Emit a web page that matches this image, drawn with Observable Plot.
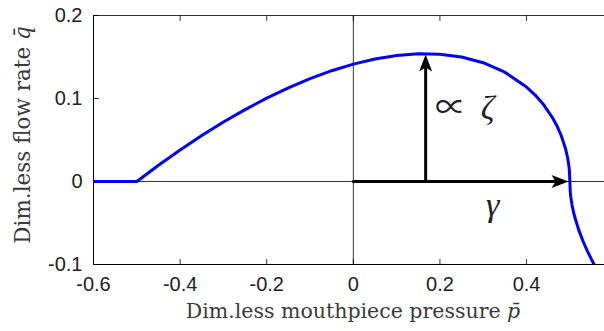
<!DOCTYPE html>
<html>
<head>
<meta charset="utf-8">
<script src="https://cdn.jsdelivr.net/npm/d3@7"></script>
<script src="https://cdn.jsdelivr.net/npm/@observablehq/plot@0.6"></script>
<style>
  body { margin: 0; background: #fff; }
  svg { display: block; }
</style>
</head>
<body>
<div id="chart"></div>
<script>
// Reed-valve characteristic: dimensionless flow rate vs mouthpiece pressure
const pressure = [-0.6, -0.5, -0.45, -0.4, -0.35, -0.3, -0.25, -0.2, -0.15, -0.1, -0.05, 0,
  0.05, 0.1, 0.15, 0.2, 0.25, 0.3, 0.35, 0.4, 0.42, 0.44, 0.46, 0.47, 0.48, 0.49, 0.495,
  0.498, 0.499, 0.5, 0.501, 0.502, 0.505, 0.51, 0.52, 0.53, 0.54, 0.55, 0.556];
const flow = [0, 0, 0.0195, 0.0379, 0.0553, 0.0716, 0.0866, 0.1004, 0.1129, 0.1239, 0.1335, 0.1414,
  0.1476, 0.1518, 0.1538, 0.1534, 0.15, 0.1431, 0.1317, 0.1138, 0.1041, 0.0921, 0.0768, 0.0672,
  0.0554, 0.0396, 0.0281, 0.0179, 0.0126, 0, -0.0127, -0.018, -0.0284, -0.0404, -0.0577, -0.0714,
  -0.0832, -0.0939, -0.1];

const xTicks = [-0.6, -0.4, -0.2, 0, 0.2, 0.4];
const yTicks = [-0.1, 0, 0.1, 0.2];

// annotation arrows: ∝ ζ (height of the peak) and γ (closing pressure)
const arrowX1 = [0.167, 0];
const arrowY1 = [0, 0];
const arrowX2 = [0.167, 0.497];
const arrowY2 = [0.153, 0];
const arrowAngle = [0, 90];

const symbolText = ["∝", "ζ", "γ"];
const symbolX = [0.225, 0.31, 0.322];
const symbolY = [0.088, 0.088, -0.028];
const symbolItalic = [false, true, true];

const curve = pressure.map((p, i) => ({p, q: flow[i]}));
const arrows = arrowX1.map((x1, i) => ({x1, y1: arrowY1[i], x2: arrowX2[i], y2: arrowY2[i], a: arrowAngle[i]}));
const symbols = symbolText.map((t, i) => ({t, x: symbolX[i], y: symbolY[i], it: symbolItalic[i]}));

// short inward tick stroke for Plot.vector
const spike = {draw(ctx, l) { ctx.moveTo(0, 0); ctx.lineTo(0, -l); }};
// filled arrowhead with a notched back, tip at the origin, pointing up
const head = {draw(ctx) {
  ctx.moveTo(0, 0); ctx.lineTo(-6.5, 17); ctx.lineTo(0, 13); ctx.lineTo(6.5, 17); ctx.closePath();
}};

const serif = "'DejaVu Serif', 'Liberation Serif', serif";
const mathSerif = "'Liberation Serif', 'DejaVu Serif', serif";
const sans = "'Liberation Sans', Arial, sans-serif";

const chart = Plot.plot({
  width: 604,
  height: 331,
  marginLeft: 93,
  marginRight: 0,
  marginTop: 15,
  marginBottom: 67,
  style: {fontFamily: sans, background: "#fff", overflow: "visible"},
  x: {domain: [-0.6, 0.58]},
  y: {domain: [-0.1, 0.2]},
  marks: [
    // zero lines
    Plot.ruleY([0], {stroke: "#000", strokeWidth: 0.8}),
    Plot.ruleX([0], {stroke: "#000", strokeWidth: 0.8}),
    // box edges
    Plot.ruleY([0.2], {stroke: "#333", strokeWidth: 1}),
    Plot.ruleY([-0.1], {stroke: "#000", strokeWidth: 1}),
    Plot.ruleX([-0.6], {stroke: "#000", strokeWidth: 1}),
    // inward ticks
    Plot.vector(xTicks, {x: d => d, frameAnchor: "bottom", length: 5, anchor: "start", shape: spike, stroke: "#000", strokeWidth: 0.8}),
    Plot.vector(xTicks, {x: d => d, frameAnchor: "top", rotate: 180, length: 5, anchor: "start", shape: spike, stroke: "#000", strokeWidth: 0.8}),
    Plot.vector(yTicks, {y: d => d, frameAnchor: "left", rotate: 90, length: 5, anchor: "start", shape: spike, stroke: "#000", strokeWidth: 0.8}),
    // tick labels
    Plot.axisX(xTicks, {tickSize: 0, tickPadding: 12, fontSize: 20, tickFormat: d => String(d), label: null, fill: "#222"}),
    Plot.axisY(yTicks, {tickSize: 0, tickPadding: 11, fontSize: 20, tickFormat: d => String(d), label: null, fill: "#222"}),
    // characteristic curve
    Plot.line(curve, {x: "p", y: "q", stroke: "#0000ff", strokeWidth: 3, clip: true}),
    // arrows
    Plot.arrow(arrows, {x1: "x1", y1: "y1", x2: "x2", y2: "y2", headLength: 0, insetEnd: 12, stroke: "#000", strokeWidth: 3}),
    Plot.dot(arrows, {x: "x2", y: "y2", symbol: head, rotate: "a", fill: "#000", stroke: null}),
    // symbol labels
    Plot.text(symbols.filter(d => !d.it), {x: "x", y: "y", text: "t", fontSize: 31, fontFamily: "'Noto Sans CJK JP', 'DejaVu Sans', sans-serif", fill: "#222"}),
    Plot.text(symbols.filter(d => d.it), {x: "x", y: "y", text: "t", fontSize: 34, fontFamily: mathSerif, fontStyle: "italic", fill: "#222"}),
    // axis titles
    Plot.text(["Dim.less mouthpiece pressure |p̄"], {frameAnchor: "bottom", textAnchor: "middle", dx: 4, dy: 53, fontSize: 20.5, fontFamily: serif, fill: "#3a3a3a", className: "axis-title"}),
    Plot.text(["Dim.less flow rate |q̄"], {frameAnchor: "left", textAnchor: "middle", dx: -70, dy: -5, rotate: -90, fontSize: 21.5, fontFamily: serif, fill: "#3a3a3a", className: "axis-title"})
  ]
});

// set the trailing variable of each axis title in italics
d3.select(chart).selectAll(".axis-title text").each(function() {
  const [head, tail] = this.textContent.split("|");
  const t = d3.select(this);
  t.text(head);
  t.append("tspan").attr("font-style", "italic").text(tail);
});

document.getElementById("chart").appendChild(chart);
</script>
</body>
</html>
